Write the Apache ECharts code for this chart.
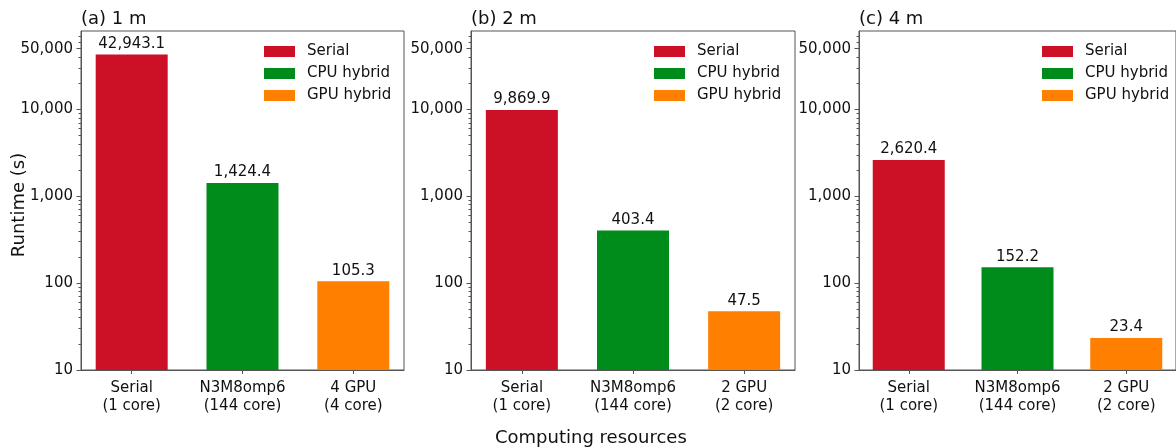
<!DOCTYPE html>
<html>
<head>
<meta charset="utf-8">
<script src="https://cdn.jsdelivr.net/npm/echarts@6/dist/echarts.min.js"></script>
<style>
html,body{margin:0;padding:0;background:#fff;}
#chart{width:1176px;height:448px;}
</style>
</head>
<body>
<div id="chart"></div>
<script>
// ---- data ----
const panelTitles = ['(a) 1 m', '(b) 2 m', '(c) 4 m'];
const categoriesA = ['Serial\n(1 core)', 'N3M8omp6\n(144 core)', '4 GPU\n(4 core)'];
const categoriesB = ['Serial\n(1 core)', 'N3M8omp6\n(144 core)', '2 GPU\n(2 core)'];
const categoriesC = ['Serial\n(1 core)', 'N3M8omp6\n(144 core)', '2 GPU\n(2 core)'];
const seriesNames = ['Serial', 'CPU hybrid', 'GPU hybrid'];
const serialValues = [42943.1, 9869.9, 2620.4];
const cpuHybridValues = [1424.4, 403.4, 152.2];
const gpuHybridValues = [105.3, 47.5, 23.4];
const yMajorTicks = [10, 100, 1000, 10000, 50000];
const yMinorTicks = [20, 30, 40, 50, 60, 70, 80, 90,
  200, 300, 400, 500, 600, 700, 800, 900,
  2000, 3000, 4000, 5000, 6000, 7000, 8000, 9000,
  20000, 30000, 40000, 60000, 70000];
const xTickPositions = [0, 1, 2];

// ---- styles / layout ----
const colors = ['#cc1126', '#008c1a', '#ff7f00'];
const FONT = 'DejaVu Sans';
const TXT = '#111';
const LINE = '#555';
const panelLeft = [81, 471, 859];
const panelWidth = [323, 324, 324];
const gridTop = 31, gridHeight = 339;
const yMin = 10, yMax = 80000;
const xMin = -0.4575, xMax = 2.4575;
const panelCats = [categoriesA, categoriesB, categoriesC];
const panelValues = [serialValues, cpuHybridValues, gpuHybridValues];

const fmtThousands = v => Number(v).toLocaleString('en-US');
const fmtBar = v => Number(v).toLocaleString('en-US', {minimumFractionDigits: 1, maximumFractionDigits: 1});

const grid = [], xAxis = [], yAxis = [], series = [], legend = [], title = [];
for (let p = 0; p < 3; p++) {
  grid.push({
    left: panelLeft[p], top: gridTop, width: panelWidth[p], height: gridHeight,
    show: true, borderColor: LINE, borderWidth: 1, backgroundColor: 'transparent', containLabel: false
  });
  const cats = panelCats[p];
  xAxis.push({
    type: 'value', gridIndex: p, min: xMin, max: xMax, position: 'bottom',
    axisLine: {show: true, onZero: false, lineStyle: {color: LINE, width: 1}},
    axisTick: {show: true, length: 4, customValues: xTickPositions, lineStyle: {color: LINE}},
    axisLabel: {
      show: true, customValues: xTickPositions, margin: 9,
      formatter: v => cats[Math.round(v)],
      fontFamily: FONT, fontSize: 15, color: TXT, lineHeight: 18, align: 'center'
    },
    splitLine: {show: false}
  });
  yAxis.push({
    type: 'log', logBase: 10, gridIndex: p, min: yMin, max: yMax, position: 'left',
    axisLine: {show: true, onZero: false, lineStyle: {color: LINE, width: 1}},
    axisTick: {show: true, length: 4.5, customValues: yMajorTicks, lineStyle: {color: LINE}},
    axisLabel: {
      show: true, customValues: yMajorTicks, margin: 8,
      formatter: v => fmtThousands(v), fontFamily: FONT, fontSize: 15, color: TXT
    },
    splitLine: {show: false}
  });
  yAxis.push({
    type: 'log', logBase: 10, gridIndex: p, min: yMin, max: yMax, position: 'left', offset: 0,
    axisLine: {show: false, onZero: false},
    axisTick: {show: true, length: 2.5, customValues: yMinorTicks, lineStyle: {color: LINE}},
    axisLabel: {show: false},
    splitLine: {show: false}
  });
  for (let s = 0; s < 3; s++) {
    series.push({
      type: 'bar', name: seriesNames[s], xAxisIndex: p, yAxisIndex: 2 * p,
      data: [[xTickPositions[s], panelValues[s][p]]],
      barWidth: 72, barGap: '-100%', clip: true,
      itemStyle: {color: colors[s]},
      label: {
        show: true, position: 'top', distance: 3,
        formatter: prm => fmtBar(prm.value[1]),
        fontFamily: FONT, fontSize: 15, color: TXT
      },
      emphasis: {disabled: true}
    });
  }
  legend.push({
    show: true, orient: 'vertical', left: panelLeft[p] + 183, top: 44,
    itemWidth: 31, itemHeight: 11, itemGap: 7, icon: 'rect',
    padding: 0, selectedMode: false,
    data: seriesNames.map(n => ({name: n})),
    textStyle: {fontFamily: FONT, fontSize: 15, color: TXT, padding: [0, 0, 0, 7]}
  });
  title.push({
    text: panelTitles[p], left: panelLeft[p], top: 10, padding: 0,
    textStyle: {fontFamily: FONT, fontSize: 18, fontWeight: 'normal', color: TXT}
  });
}

const chart = echarts.init(document.getElementById('chart'), null, {renderer: 'canvas'});
chart.setOption({
  animation: false,
  backgroundColor: '#fff',
  title, grid, xAxis, yAxis, series, legend,
  graphic: [
    {type: 'text', left: 495, top: 429, style: {text: 'Computing resources', font: '18px "DejaVu Sans"', fill: TXT}},
    {type: 'text', x: 19, y: 205, rotation: Math.PI / 2,
      style: {text: 'Runtime (s)', font: '18px "DejaVu Sans"', fill: TXT, align: 'center', verticalAlign: 'middle'}}
  ]
});
</script>
</body>
</html>
